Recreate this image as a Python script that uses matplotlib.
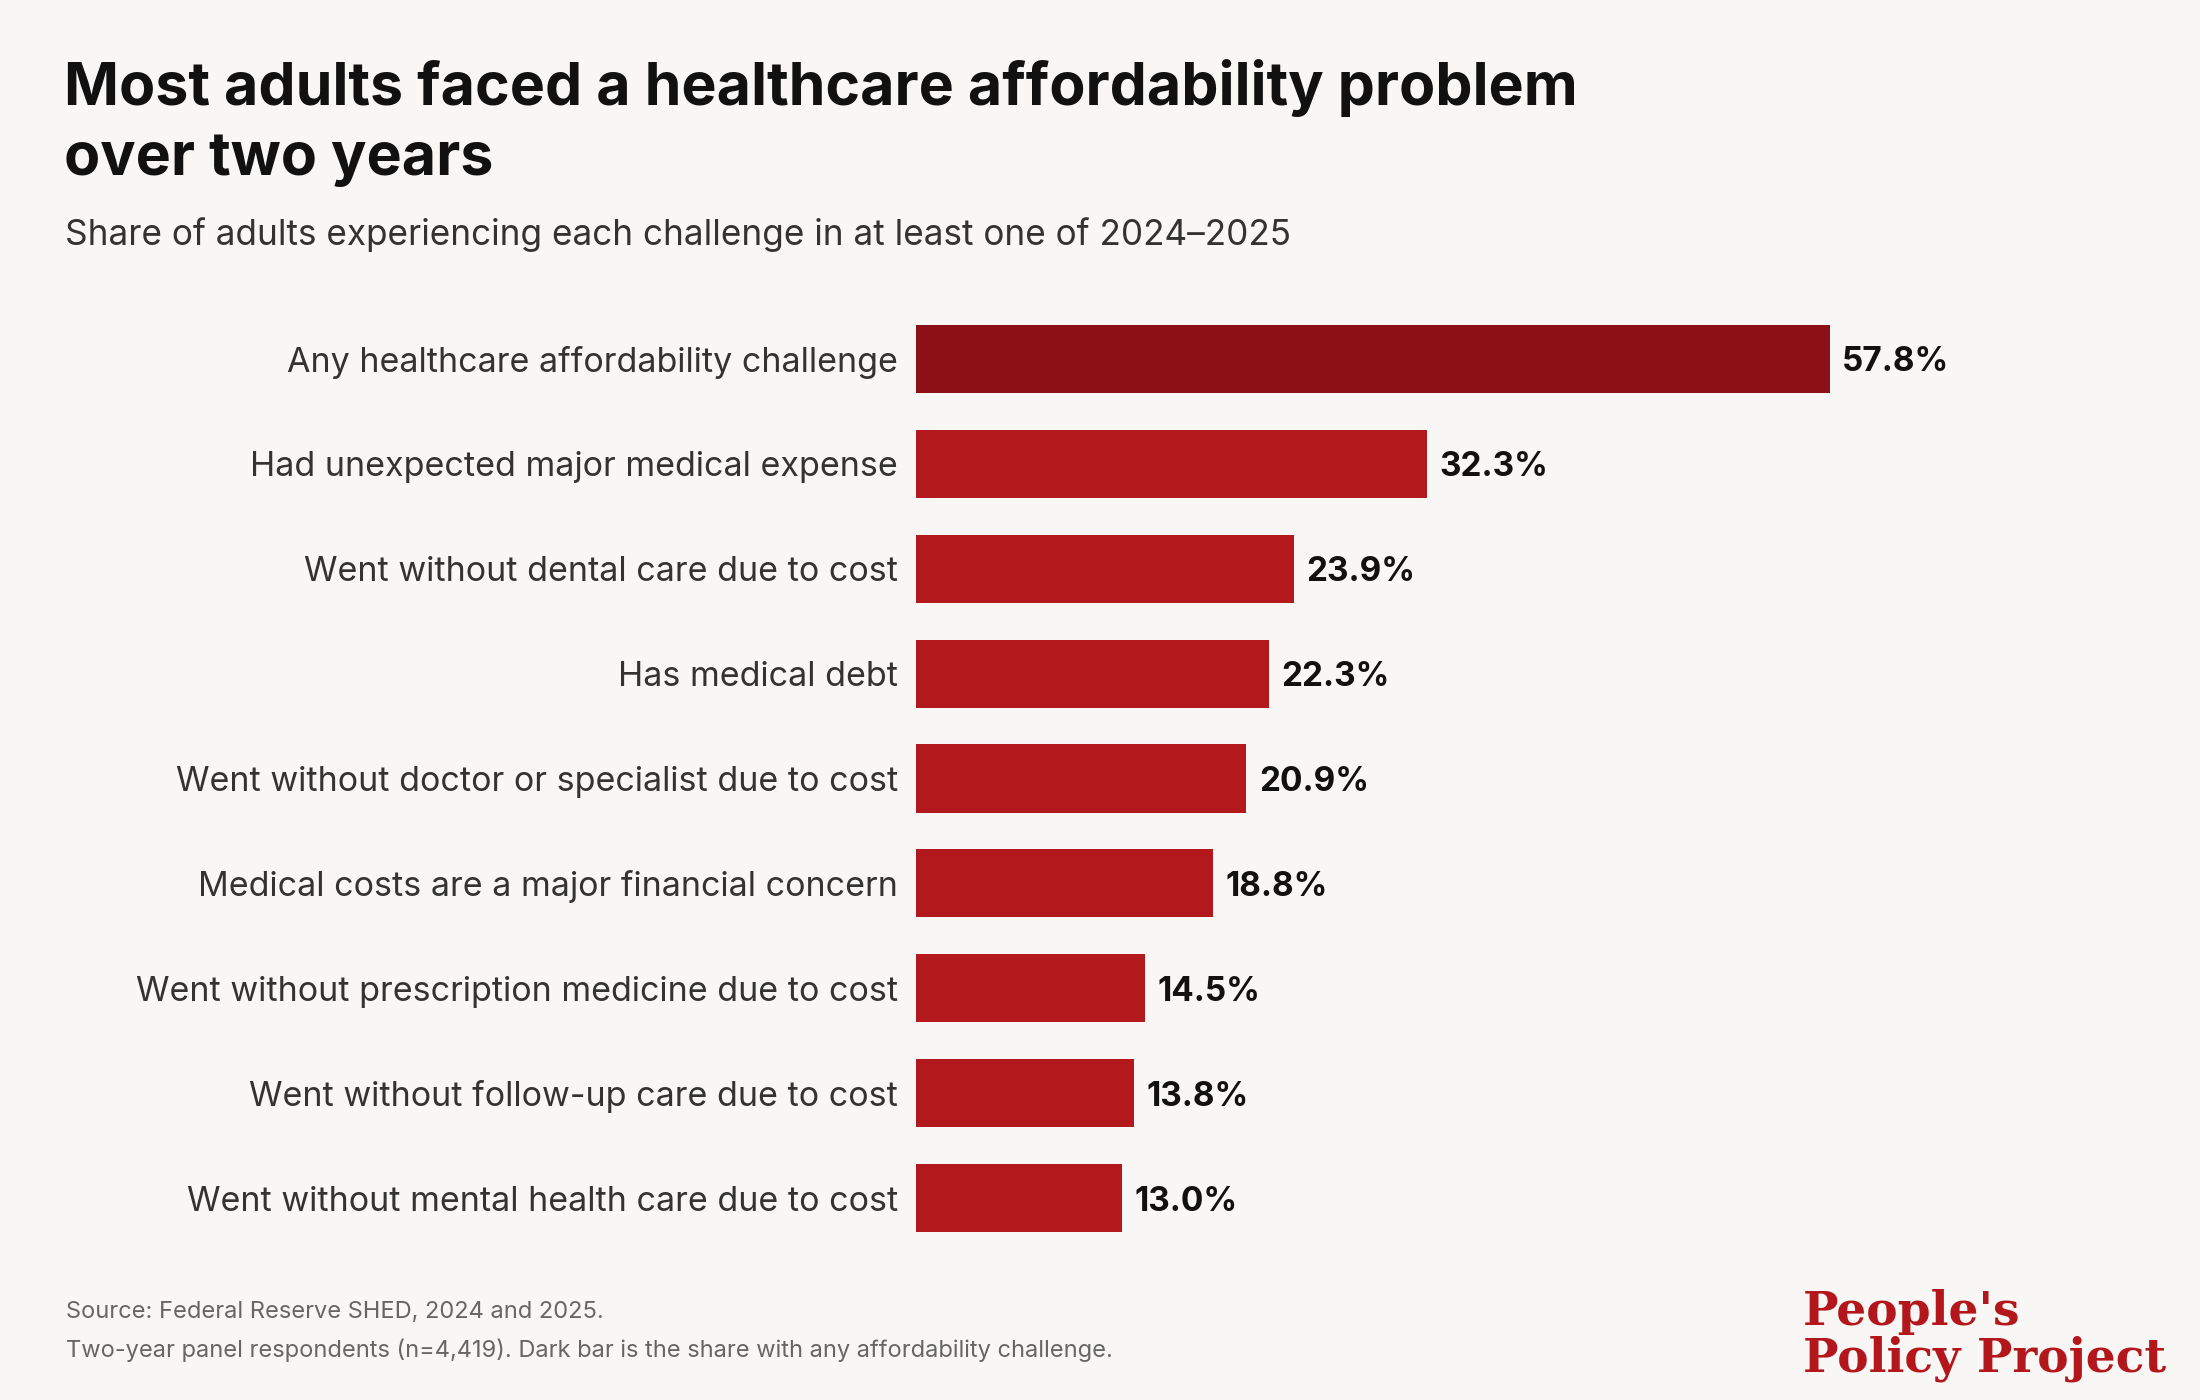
import matplotlib.pyplot as plt

# Data
categories = [
    "Any healthcare affordability challenge",
    "Had unexpected major medical expense",
    "Went without dental care due to cost",
    "Has medical debt",
    "Went without doctor or specialist due to cost",
    "Medical costs are a major financial concern",
    "Went without prescription medicine due to cost",
    "Went without follow-up care due to cost",
    "Went without mental health care due to cost",
]
values = [57.8, 32.3, 23.9, 22.3, 20.9, 18.8, 14.5, 13.8, 13.0]

TITLE = "Most adults faced a healthcare affordability problem\nover two years"
SUBTITLE = "Share of adults experiencing each challenge in at least one of 2024\u20132025"
SOURCE = "Source: Federal Reserve SHED, 2024 and 2025."
NOTE = "Two-year panel respondents (n=4,419). Dark bar is the share with any affordability challenge."

BG = "#f8f7f5"
DARK = "#8b1116"
RED = "#b3181d"
W, H = 2200, 1400

plt.rcParams["font.family"] = ["Inter", "DejaVu Sans"]

fig = plt.figure(figsize=(W / 100, H / 100), dpi=100, facecolor=BG)


def fx(px):
    return px / W


def fy(py):
    return 1 - py / H


# Axes placed so bars line up with the reference
ax = fig.add_axes([fx(916), fy(1250.5), fx(60 * 15.81), (1250.5 - 306.5) / H])
ax.set_facecolor(BG)

colors = [DARK] + [RED] * (len(values) - 1)
pos = list(range(len(categories)))
ax.barh(pos, values, height=0.65, color=colors)
ax.set_xlim(0, 60)
ax.set_ylim(len(categories) - 0.5, -0.5)

for p, v in zip(pos, values):
    ax.annotate(f"{v:.1f}%", (v, p), xytext=(9, 0), textcoords="offset points",
                va="center_baseline", ha="left", fontsize=24, fontweight="bold",
                color="#111111")

ax.set_yticks(pos)
ax.set_yticklabels(categories, fontsize=24.5, color="#333333")
for t in ax.get_yticklabels():
    t.set_va("center_baseline")
ax.tick_params(axis="y", length=0, pad=13)
ax.set_xticks([])
for s in ax.spines.values():
    s.set_visible(False)

# Title block
fig.text(fx(64), fy(105), TITLE.split("\n")[0], fontsize=42.5, fontweight="bold",
         color="#111111", va="baseline")
fig.text(fx(64), fy(175), TITLE.split("\n")[1], fontsize=42.5, fontweight="bold",
         color="#111111", va="baseline")
fig.text(fx(65), fy(245), SUBTITLE, fontsize=25.3, color="#333333", va="baseline")

# Footer
fig.text(fx(66), fy(1318), SOURCE, fontsize=17, color="#666666", va="baseline")
fig.text(fx(66), fy(1357), NOTE, fontsize=17, color="#666666", va="baseline")

# Logo
fig.text(fx(1803), fy(1325), "People's", fontsize=34, fontweight="bold",
         family="DejaVu Serif", color="#b3171b", va="baseline")
fig.text(fx(1803), fy(1372), "Policy Project", fontsize=34, fontweight="bold",
         family="DejaVu Serif", color="#b3171b", va="baseline")

fig.savefig("out.png", dpi=100, facecolor=BG)
